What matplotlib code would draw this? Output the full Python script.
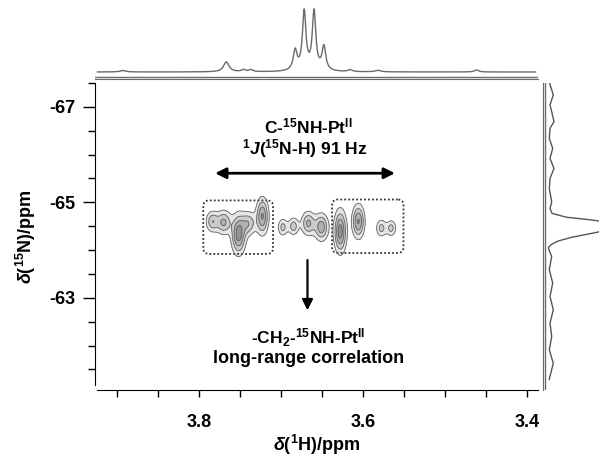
import numpy as np
import matplotlib
matplotlib.use('Agg')
import matplotlib.pyplot as plt
from matplotlib.patches import FancyBboxPatch
from matplotlib.ticker import MultipleLocator, FixedLocator

plt.rcParams['font.family'] = ['Liberation Sans', 'DejaVu Sans']
plt.rcParams['font.weight'] = 'bold'
plt.rcParams['axes.labelweight'] = 'bold'
plt.rcParams['mathtext.fontset'] = 'custom'
plt.rcParams['mathtext.rm'] = 'Liberation Sans:bold'
plt.rcParams['mathtext.it'] = 'Liberation Sans:italic:bold'
plt.rcParams['mathtext.bf'] = 'Liberation Sans:bold'
plt.rcParams['mathtext.default'] = 'rm'

# 1H projection (top): peaks as ppm, height, half width
h_peak_ppm = [3.893, 3.767, 3.746, 3.737, 3.683, 3.672, 3.660, 3.648, 3.616, 3.582, 3.462]
h_peak_hgt = [1.5, 10.0, 2.0, 2.0, 20.0, 59.0, 59.0, 24.0, 2.0, 1.5, 2.0]
h_peak_hw = [0.004, 0.004, 0.003, 0.003, 0.0028, 0.0026, 0.0026, 0.0028, 0.003, 0.004, 0.003]

# 15N projection (right): N ppm and intensity
n_trace_ppm = [-67.52, -67.25, -67.04, -66.90, -66.69, -66.55, -66.34, -66.13, -65.92,
               -65.71, -65.50, -65.29, -65.01, -64.87, -64.77, -64.69, -64.63, -64.56,
               -64.46, -64.36, -64.27, -64.19, -64.12, -64.06, -64.00, -63.87, -63.59,
               -63.31, -63.03, -62.75, -62.47, -62.19, -61.91, -61.63, -61.36, -61.29]
n_trace_int = [-0.7, 3.3, 0.0, 1.7, 4.0, 0.0, -0.7, 2.7, 0.0, 4.0, 0.0, -0.7, 1.7, 0.0,
               2.0, 16.0, 42.0, 66.0, 66.0, 44.0, 22.0, 8.0, 1.5, -1.5, -1.0, 1.7, -0.7,
               2.7, 0.0, 3.3, 0.0, 1.7, -0.7, 3.3, 0.0, -0.7]

# 2D cross peaks: H ppm, N ppm, widths, amplitude
cp_h = [3.784, 3.770, 3.752, 3.740, 3.723, 3.698, 3.685, 3.667, 3.651, 3.628, 3.606, 3.578, 3.566]
cp_n = [-64.60, -64.58, -64.33, -64.56, -64.71, -64.48, -64.50, -64.56, -64.48, -64.39, -64.60, -64.46, -64.46]
cp_sh = [0.0050, 0.0060, 0.0055, 0.0060, 0.0048, 0.0040, 0.0042, 0.0055, 0.0055, 0.0048, 0.0048, 0.0042, 0.0040]
cp_sn = [0.14, 0.16, 0.26, 0.16, 0.24, 0.12, 0.12, 0.16, 0.18, 0.28, 0.22, 0.12, 0.11]
cp_amp = [0.6, 0.7, 1.0, 0.6, 0.9, 0.5, 0.55, 0.7, 0.8, 1.0, 0.9, 0.5, 0.5]

# dotted boxes (H from, H to, N from, N to)
boxes = [(3.795, 3.710, -65.04, -63.92), (3.638, 3.551, -65.06, -63.94)]

W, H = 599, 458
fig = plt.figure(figsize=(W / 100, H / 100), dpi=100)


def px_axes(l, t, r, b):
    return fig.add_axes([l / W, 1 - b / H, (r - l) / W, (b - t) / H])


xlim = (3.927, 3.387)
ylim = (-61.07, -67.50)
gray = '#6a6a6a'

# main 2D panel
ax = px_axes(95, 83, 538, 390)
ax.set_xlim(*xlim)
ax.set_ylim(*ylim)

hh = np.linspace(3.53, 3.82, 500)
nn = np.linspace(-65.4, -63.5, 250)
HH, NN = np.meshgrid(hh, nn)
Z = np.zeros_like(HH)
for h0, n0, sh, sn, a in zip(cp_h, cp_n, cp_sh, cp_sn, cp_amp):
    Z += a * np.exp(-((HH - h0) ** 2 / (2 * sh ** 2) + (NN - n0) ** 2 / (2 * sn ** 2)))
levels = [0.2, 0.42, 0.65, 0.88, 3.0]
ax.contourf(HH, NN, Z, levels=levels, colors=['#e6e6e6', '#cbcbcb', '#b0b0b0', '#939393'])
ax.contour(HH, NN, Z, levels=levels[:-1], colors='#626262', linewidths=0.6)

for h1, h2, n1, n2 in boxes:
    x0, y0 = min(h1, h2), min(n1, n2)
    box = FancyBboxPatch((x0, y0), abs(h1 - h2), abs(n2 - n1),
                         boxstyle='round,pad=0,rounding_size=0.007',
                         mutation_aspect=17.1, fill=False, ec='#333333',
                         lw=1.3, ls=(0, (1, 1.2)))
    ax.add_patch(box)

ax.annotate('', xy=(3.784, -65.61), xytext=(3.558, -65.61),
            arrowprops=dict(arrowstyle='<|-|>', lw=2, color='black', mutation_scale=16))
ax.annotate('', xy=(3.668, -62.68), xytext=(3.668, -63.85),
            arrowprops=dict(arrowstyle='-|>', lw=1.6, color='black', mutation_scale=16))

ax.text(3.667, -66.60, r'C-$^{15}$NH-Pt$^{II}$', ha='center', va='center', fontsize=12.5)
ax.text(3.671, -66.12, r'$^{1}\mathit{J}$($^{15}$N-H) 91 Hz', ha='center', va='center', fontsize=12.5)
ax.text(3.667, -62.17, r'-CH$_{2}$-$^{15}$NH-Pt$^{II}$', ha='center', va='center', fontsize=12.5)
ax.text(3.667, -61.72, 'long-range correlation', ha='center', va='center', fontsize=13)

for s in ['top', 'right']:
    ax.spines[s].set_visible(False)
ax.spines['left'].set_bounds(-61.18, -67.50)
ax.spines['bottom'].set_bounds(3.924, 3.387)
ax.xaxis.set_major_locator(FixedLocator([3.8, 3.6, 3.4]))
ax.xaxis.set_minor_locator(MultipleLocator(0.05))
ax.yaxis.set_major_locator(FixedLocator([-67, -65, -63]))
ax.yaxis.set_minor_locator(MultipleLocator(0.5))
ax.tick_params(axis='x', which='both', length=5, width=1, pad=12, labelsize=13)
ax.tick_params(axis='y', which='major', length=9, width=1, pad=5, labelsize=13)
ax.tick_params(axis='y', which='minor', length=5, width=1)
ax.set_xticklabels(['3.8', '3.6', '3.4'])
ax.set_yticklabels(['-67', '-65', '-63'])
ax.set_xlabel(r'$\mathit{δ}$($^{1}$H)/ppm', fontsize=13, labelpad=2)
ax.set_ylabel(r'$\mathit{δ}$($^{15}$N)/ppm', fontsize=13, labelpad=8)

# top projection
axt = px_axes(95, 0, 538, 79)
xs = np.linspace(xlim[0] - 0.003, xlim[1] + 0.003, 3000)
spec = np.zeros_like(xs)
for p, a, w in zip(h_peak_ppm, h_peak_hgt, h_peak_hw):
    spec += a * w ** 2 / ((xs - p) ** 2 + w ** 2)
axt.plot(xs, spec, color=gray, lw=1)
axt.set_xlim(*xlim)
axt.set_ylim(-7, 72)
axt.axhline(-5, color=gray, lw=1)
for s in ['top', 'right', 'left']:
    axt.spines[s].set_visible(False)
axt.spines['bottom'].set_color(gray)
axt.set_xticks([])
axt.set_yticks([])
axt.patch.set_alpha(0)

# right projection
axr = px_axes(543, 83, 599, 390)
axr.plot(n_trace_int, n_trace_ppm, color='#555555', lw=1)
axr.set_xlim(-7, 49)
axr.set_ylim(*ylim)
axr.axvline(-5, color=gray, lw=1)
for s in ['top', 'right', 'bottom']:
    axr.spines[s].set_visible(False)
axr.spines['left'].set_color(gray)
axr.set_xticks([])
axr.set_yticks([])
axr.patch.set_alpha(0)

fig.savefig('out.png', dpi=100)
